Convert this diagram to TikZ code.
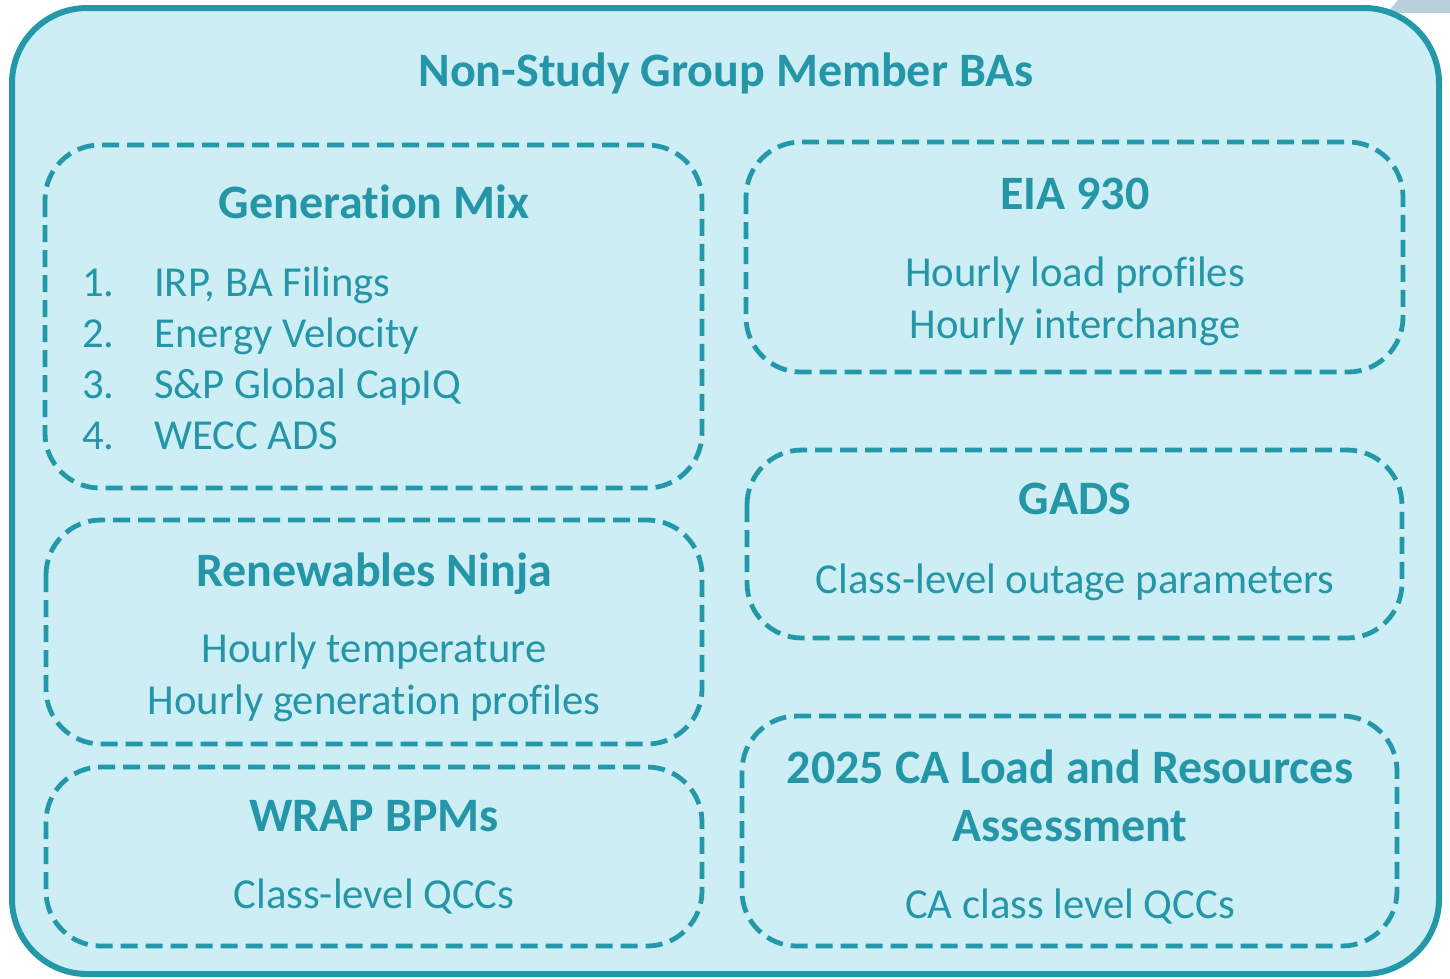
\documentclass[tikz,border=0pt]{standalone}
\usepackage{fontspec}
\setmainfont[Ligatures=NoCommon]{Carlito}
\definecolor{lineteal}{HTML}{2398A9}
\definecolor{fillc}{HTML}{CCEEF4}
\definecolor{txt}{HTML}{2596A7}
\definecolor{greyc}{HTML}{B9D0DC}
\begin{document}
\begin{tikzpicture}[x=1pt,y=-1pt,
  outerbox/.style={draw=lineteal, line width=6pt, fill=fillc, rounded corners=75pt},
  dbox/.style={draw=lineteal, line width=4.8pt, dash pattern=on 17pt off 8pt, rounded corners=55pt},
  hd/.style={anchor=base, text=txt, font=\fontsize{48}{56}\selectfont\bfseries, inner sep=0pt},
  bd/.style={anchor=base, text=txt, font=\fontsize{42.7}{50}\selectfont, inner sep=0pt},
  li/.style={anchor=base west, text=txt, font=\fontsize{42.7}{50}\selectfont, inner sep=0pt}]
\useasboundingbox (0,0) rectangle (1450,978);
\fill[greyc] (1387,13) -- (1398,0) -- (1450,0) -- (1450,13) -- cycle;
\draw[outerbox] (12,8) rectangle (1439,974);
% dashed boxes
\draw[dbox] (45,145) rectangle (702,488);
\draw[dbox] (46,520) rectangle (702,744);
\draw[dbox] (46,767) rectangle (702,946);
\draw[dbox] (746,142) rectangle (1403,372);
\draw[dbox] (747,450) rectangle (1402,638);
\draw[dbox] (742,716) rectangle (1397,946);
% texts
\node[hd] (title) at (726,86) {Non-Study Group Member BAs};
\node[hd] (gm) at (374,218) {Generation Mix};
\node[li] (n1) at (82,296) {1.};
\node[li] (n2) at (82,347) {2.};
\node[li] (n3) at (82,398) {3.};
\node[li] (n4) at (82,449) {4.};
\node[li] (i1) at (154,296) {IRP, BA Filings};
\node[li] (i2) at (154,347) {Energy Velocity};
\node[li] (i3) at (154,398) {S\&P Global CapIQ};
\node[li] (i4) at (154,449) {WECC ADS};
\node[hd] (rn) at (374,586) {Renewables Ninja};
\node[bd] (rn1) at (374,662) {Hourly temperature};
\node[bd] (rn2) at (374,714) {Hourly generation profiles};
\node[hd] (wrap) at (374,831) {WRAP BPMs};
\node[bd] (wrap1) at (374,908) {Class-level QCCs};
\node[hd] (eia) at (1075,209) {EIA 930};
\node[bd] (eia1) at (1075,286) {Hourly load profiles};
\node[bd] (eia2) at (1075,338) {Hourly interchange};
\node[hd] (gads) at (1075,514) {GADS};
\node[bd] (gads1) at (1075,593) {Class-level outage parameters};
\node[hd] (ca1) at (1070,783) {2025 CA Load and Resources};
\node[hd] (ca2) at (1070,841) {Assessment};
\node[bd] (ca3) at (1070,918) {CA class level QCCs};
\end{tikzpicture}
\end{document}
